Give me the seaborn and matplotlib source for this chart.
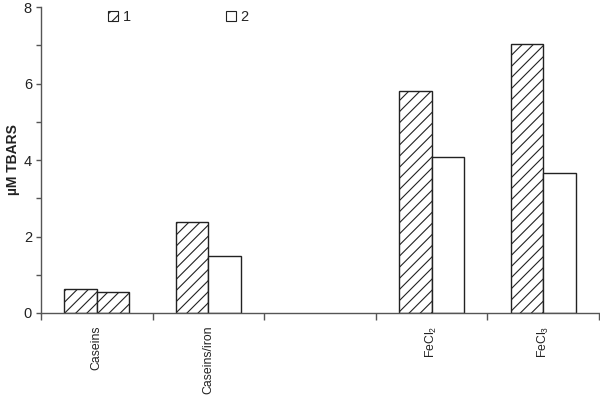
import matplotlib
matplotlib.use("Agg")
import matplotlib.pyplot as plt
import matplotlib.patches as mpatches
import seaborn as sns
import pandas as pd
import numpy as np

categories = ["Caseins", "Caseins/iron", " ", "FeCl$_2$", "FeCl$_3$"]
series_names = ["1", "2"]
values_1 = [0.62, 2.39, np.nan, 5.80, 7.02]
values_2 = [0.55, 1.50, np.nan, 4.09, 3.66]
y_ticks = [0, 2, 4, 6, 8]

sns.set_style("white")
plt.rcParams["font.family"] = ["Liberation Sans", "DejaVu Sans"]
plt.rcParams["mathtext.fontset"] = "custom"
plt.rcParams["mathtext.rm"] = "Liberation Sans"
plt.rcParams["hatch.linewidth"] = 0.8

df = pd.DataFrame({
    "category": categories * 2,
    "series": [series_names[0]] * len(categories) + [series_names[1]] * len(categories),
    "value": values_1 + values_2,
})

fig = plt.figure(figsize=(6.0, 3.96), dpi=100)
ax = fig.add_axes([0.0683, 0.2096, 0.930, 0.7727])

sns.barplot(data=df, x="category", y="value", hue="series", order=categories,
            hue_order=series_names, palette=["white", "white"], width=0.58,
            edgecolor="#222222", linewidth=1.0, ax=ax, legend=False, errorbar=None)

n = len(categories)
for i, p in enumerate(ax.patches):
    if i < n:
        p.set_hatch("///")

ax.set_xlim(-0.5, n - 0.5)
ax.set_ylim(0, 8)
ax.set_yticks(y_ticks)
ax.set_yticks([1, 3, 5, 7], minor=True)
ax.set_xticks(range(n))
ax.set_xticklabels(categories, rotation=90)
ax.set_xticks([i + 0.5 for i in range(-1, n)], minor=True)

for s in ["top", "right"]:
    ax.spines[s].set_visible(False)
for s in ["left", "bottom"]:
    ax.spines[s].set_color("#555555")
    ax.spines[s].set_linewidth(1.0)

ax.tick_params(axis="x", which="major", length=0, pad=9, labelsize=8.8, colors="#222222")
ax.tick_params(axis="x", which="minor", length=5, width=1.0, color="#555555", direction="out", bottom=True)
ax.tick_params(axis="y", which="both", length=3.5, width=1.0, color="#555555", direction="out", left=True,
               labelsize=10.5, labelcolor="#222222", pad=3)

ax.set_xlabel("")
ax.set_ylabel("µM TBARS", fontsize=10, fontweight="bold", labelpad=2.5, color="#222222")

h1 = mpatches.Patch(facecolor="white", edgecolor="#222222", hatch="///", linewidth=0.8)
h2 = mpatches.Patch(facecolor="white", edgecolor="#222222", linewidth=0.8)
ax.legend([h1, h2], series_names, ncol=2, frameon=False, loc="center left",
          bbox_to_anchor=(108 / 600, 1 - 17 / 396), bbox_transform=fig.transFigure,
          handlelength=0.7, handleheight=0.7, handletextpad=0.3, columnspacing=6.5,
          borderpad=0, borderaxespad=0, fontsize=10.5)

fig.savefig("out.png", dpi=100)
